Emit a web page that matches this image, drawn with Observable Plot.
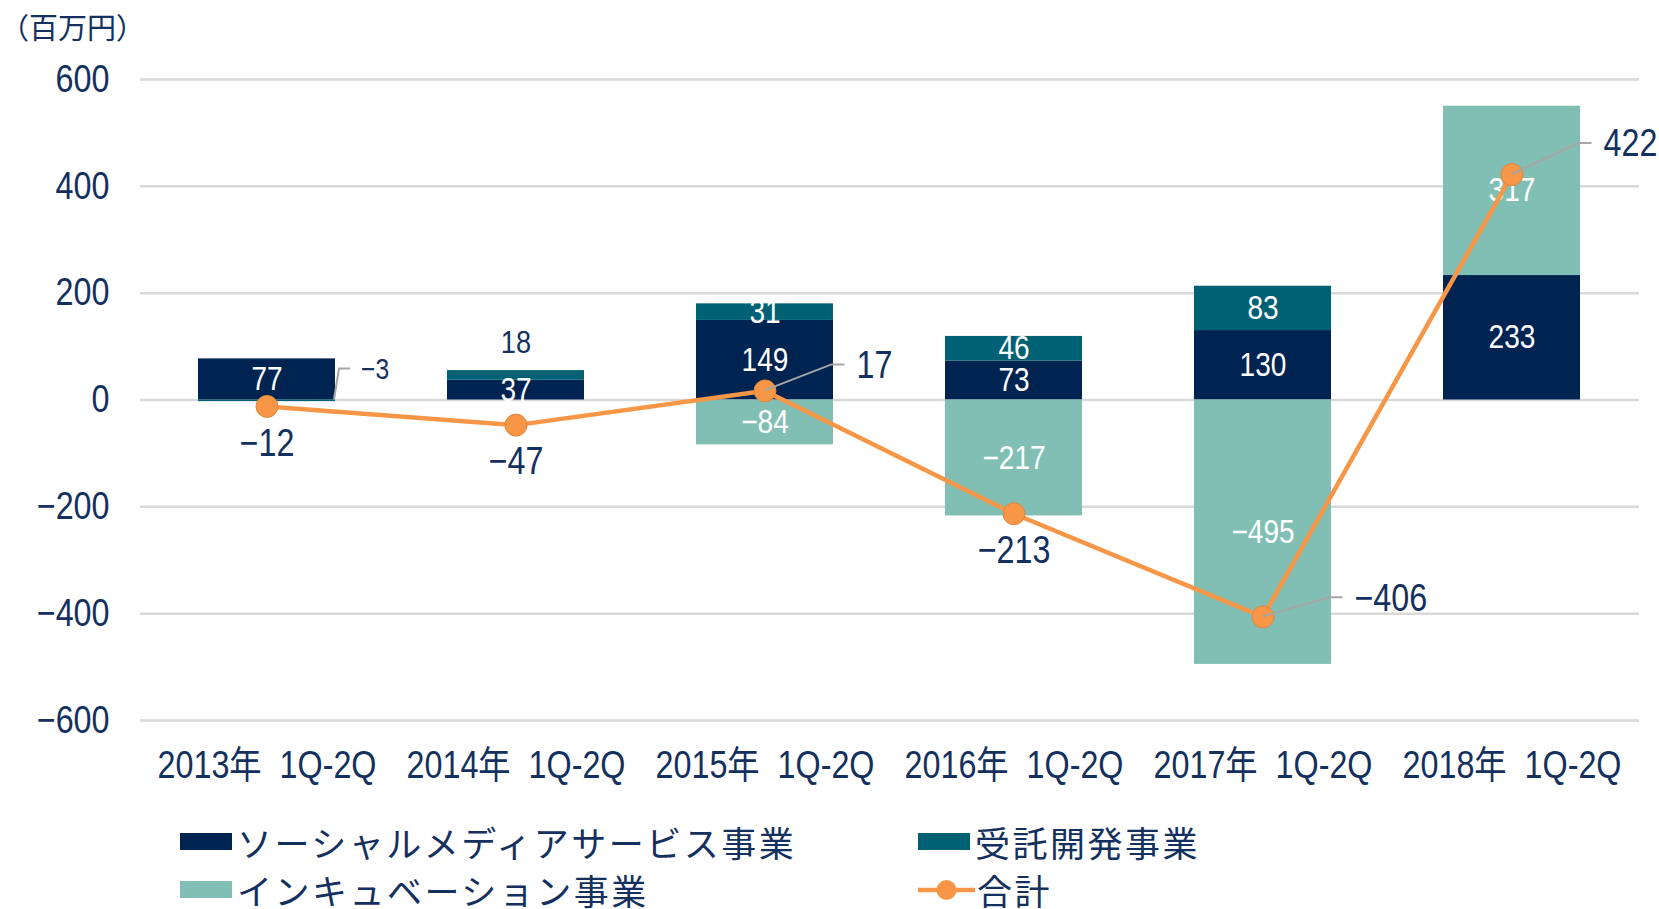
<!DOCTYPE html>
<html>
<head>
<meta charset="utf-8">
<script src="https://cdn.jsdelivr.net/npm/d3@7"></script>
<script src="https://cdn.jsdelivr.net/npm/@observablehq/plot@0.6"></script>
<style>
  body { margin: 0; background: #fff; }
  #wrap { position: relative; width: 1659px; height: 909px; background: #fff; }
  #chart { position: absolute; left: 0; top: 0; }
  #unit { position: absolute; left: 0px; top: 4px; height: 44px; line-height: 44px;
          font-family: "Noto Sans CJK JP", sans-serif; font-size: 29px; color: #13305e; white-space: nowrap; }
  .li { position: absolute; display: flex; align-items: center;
        font-family: "Noto Sans CJK JP", sans-serif; font-size: 35px; letter-spacing: 2.5px; color: #13305e; white-space: nowrap; }
  .sw { display: inline-block; width: 52px; height: 17px; margin-right: 5px; }
</style>
</head>
<body>
<div id="wrap">
  <div id="chart"></div>
  <div id="unit">（百万円）</div>
</div>
<script>
// ---- data ----
const categories = ["2013年 1Q-2Q", "2014年 1Q-2Q", "2015年 1Q-2Q", "2016年 1Q-2Q", "2017年 1Q-2Q", "2018年 1Q-2Q"];
const seriesNames = ["ソーシャルメディアサービス事業", "受託開発事業", "インキュベーション事業"];
const socialMedia = [77, 37, 149, 73, 130, 233];
const contractDev = [-3, 18, 31, 46, 83, null];
const incubation = [null, null, -84, -217, -495, 317];
const totals = [-12, -47, 17, -213, -406, 422];
const totalName = "合計";
const yTicks = [-600, -400, -200, 0, 200, 400, 600];
const totalLabelSide = ["below", "below", "right", "below", "right", "right"];

// ---- style ----
const colors = ["#002452", "#006175", "#81bfb5"];
const totalColor = "#f79646";
const textColor = "#13305e";
const FONT = '"Liberation Sans", Arial, "Noto Sans CJK JP", sans-serif';
const SCALE_X = 0.85; // horizontal condensing of chart texts
const fmt = d3.format("");

const seriesValues = [socialMedia, contractDev, incubation];
const rows = [];
categories.forEach((cat, i) => {
  seriesNames.forEach((s, k) => {
    const v = seriesValues[k][i];
    if (v != null) rows.push({cat, series: s, value: v, idx: i});
  });
});
const totRows = categories.map((cat, i) => ({cat, total: totals[i], side: totalLabelSide[i], idx: i}));
const isInside = d => Math.abs(d.value) >= 25;
const outsideRows = rows.filter(d => !isInside(d));
const posTop = categories.map((c, i) => d3.sum(seriesValues, s => (s[i] > 0 ? s[i] : 0)));

const plot = Plot.plot({
  width: 1659,
  height: 805,
  marginLeft: 140,
  marginRight: 20,
  marginTop: 79,
  marginBottom: 85,
  style: {fontFamily: FONT, fontSize: "38px", color: textColor, background: "white"},
  x: {domain: categories, paddingInner: 0.448, paddingOuter: 0.224, label: null, tickSize: 0, tickPadding: 31,
      tickFormat: d => d.replace(" ", "\u00a0 ")},
  y: {domain: [-600, 600], ticks: yTicks, label: null, tickSize: 0, tickPadding: 31},
  color: {domain: seriesNames, range: colors},
  marks: [
    Plot.ruleY(yTicks, {stroke: "#d9d9d9", strokeWidth: 2.5}),
    Plot.barY(rows, Plot.stackY({x: "cat", y: "value", z: "series", fill: "series"})),
    Plot.text(rows, Plot.stackY({x: "cat", y: "value", z: "series",
      text: d => (isInside(d) ? fmt(d.value) : ""), fill: "white", fontSize: 33})),
    // small contract labels outside bars
    Plot.text(outsideRows.filter(d => d.value > 0), {x: "cat", y: d => posTop[d.idx], text: d => fmt(d.value),
      dy: -28, fill: textColor, fontSize: 32}),
    Plot.text(outsideRows.filter(d => d.value < 0), {x: "cat", y: 0, text: d => fmt(d.value),
      dx: 94, dy: -30, textAnchor: "start", fill: textColor, fontSize: 29}),
    Plot.line(totRows, {x: "cat", y: "total", stroke: totalColor, strokeWidth: 4.5}),
    Plot.dot(totRows, {x: "cat", y: "total", r: 11, fill: totalColor, stroke: "#e0863a", strokeWidth: 1}),
    Plot.text(totRows.filter(d => d.side === "below"), {x: "cat", y: "total", text: d => fmt(d.total),
      dy: 37, fill: textColor, fontSize: 38}),
  ]
});
document.getElementById("chart").appendChild(plot);

// ---- leader lines and right-side total labels, positioned through the plot's scales ----
const sx = plot.scale("x"), sy = plot.scale("y");
const bw = sx.bandwidth;
const cx = c => sx.apply(c) + bw / 2;
const svg = d3.select(plot);
const rise = {2: 26, 4: 19, 5: 31};
const gL = svg.append("g").attr("fill", "none").attr("stroke", "#a6a6a6").attr("stroke-width", 2);
const gT = svg.append("g").attr("font-family", FONT).attr("font-size", 38).attr("fill", textColor).attr("text-anchor", "start");
totRows.filter(d => d.side === "right").forEach(d => {
  const x0 = cx(d.cat), y0 = sy.apply(d.total);
  const r = rise[d.idx] ?? 26;
  gL.append("path").attr("d", `M${x0},${y0}L${x0 + 67},${y0 - r}L${x0 + 80},${y0 - r}`);
  gT.append("text").attr("transform", `translate(${x0 + 92},${y0 - r})`).attr("dy", "0.35em").text(fmt(d.total));
});
outsideRows.filter(d => d.value < 0).forEach(d => {
  const xr = sx.apply(d.cat) + bw, y0 = sy.apply(0);
  gL.append("path").attr("d", `M${xr - 1},${y0}L${xr + 4},${y0 - 31}L${xr + 15},${y0 - 31}`);
});

// condense all chart texts horizontally (the original uses a narrow typeface)
svg.selectAll("text").each(function () {
  const x = +(this.getAttribute("x") || 0);
  const t = this.getAttribute("transform") || "";
  this.removeAttribute("x");
  this.setAttribute("transform", `${t} translate(${x},0) scale(${SCALE_X},1)`);
});

// ---- legend ----
const wrap = document.getElementById("wrap");
const legendPos = [[180, 816], [918, 816], [180, 864]];
seriesNames.forEach((s, k) => {
  const el = document.createElement("div");
  el.className = "li";
  el.style.left = legendPos[k][0] + "px";
  el.style.top = legendPos[k][1] + "px";
  el.innerHTML = `<span class="sw" style="background:${colors[k]}"></span><span>${s}</span>`;
  wrap.appendChild(el);
});
const tl = document.createElement("div");
tl.className = "li";
tl.style.left = "918px";
tl.style.top = "864px";
tl.innerHTML = `<svg width="57" height="26" style="margin-right:2px"><line x1="0" y1="13" x2="57" y2="13" stroke="${totalColor}" stroke-width="4.5"/><circle cx="28.5" cy="13" r="10" fill="${totalColor}"/></svg><span>${totalName}</span>`;
wrap.appendChild(tl);
</script>
</body>
</html>
